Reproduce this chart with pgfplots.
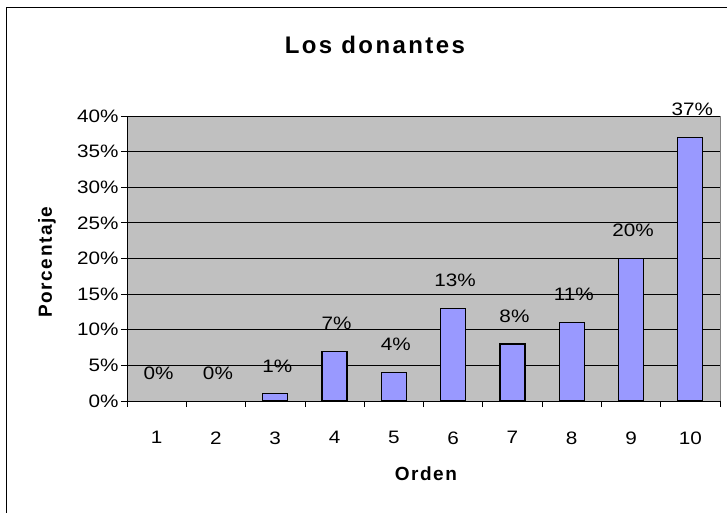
\documentclass[border=0pt]{standalone}
\usepackage{fontspec}
\setmainfont{Liberation Sans}[FakeStretch=1.15]
\newfontfamily\titlefont[LetterSpace=10]{Liberation Sans}
\newfontfamily\labelfont[LetterSpace=8]{Liberation Sans}
\usepackage{pgfplots}
\pgfplotsset{compat=1.18}

\definecolor{barblue}{HTML}{9999FF}
\definecolor{plotgray}{HTML}{C0C0C0}
\definecolor{edgegray}{HTML}{808080}

\begin{document}
\begin{tikzpicture}
    \useasboundingbox (-127bp,-112bp) rectangle (600bp,401bp);
    \clip (-127bp,-112bp) rectangle (600bp,401bp);
    \draw[line width=1bp] (-120bp,-140bp) rectangle (640bp,393bp);
    \begin{axis}[
        at={(0,0)}, anchor=south west,
        scale only axis,
        width=593bp, height=285bp,
        clip=false,
        axis background/.style={fill=plotgray, draw=edgegray},
        axis x line*=bottom, axis y line*=left,
        axis line style={black, line width=0.8bp},
        xmin=0.5, xmax=10.5,
        ymin=0, ymax=40,
        xtick={1,...,10},
        minor xtick={0.5,1.5,...,10.5},
        major x tick style={draw=none},
        minor tick length=6bp, major tick length=6bp,
        tick align=outside,
        tick style={black, line width=0.8bp},
        ytick={0,5,...,40},
        ymajorgrids=true,
        grid style={black, line width=0.8bp},
        /pgf/number format/assume math mode=true,
        yticklabel={\pgfmathprintnumber{\tick}\%},
        ticklabel style={font=\fontsize{18bp}{20bp}\selectfont},
        yticklabel style={xshift=1bp},
        xticklabel style={yshift=-21bp},
        title={\titlefont\fontsize{24bp}{28bp}\selectfont\bfseries Los donantes},
        title style={at={(axis description cs:0.418,1.228)}, anchor=center},
        xlabel={\labelfont\fontsize{19bp}{22bp}\selectfont\bfseries Orden},
        xlabel style={at={(axis description cs:0.504,-0.256)}, anchor=center},
        ylabel={\labelfont\fontsize{19bp}{22bp}\selectfont\bfseries Porcentaje},
        ylabel style={at={(axis description cs:-0.135,0.488)}, anchor=center, rotate=0},
        ybar, bar width=25bp,
        nodes near coords={\pgfmathprintnumber{\pgfplotspointmeta}\%},
        every node near coord/.append style={anchor=center, yshift=28bp, xshift=2bp,
            font=\fontsize{18bp}{20bp}\selectfont},
    ]
        % bars with a value
        \addplot[bar shift=0pt, fill=barblue, draw=black, line width=1.2bp]
            coordinates {
            (3,1) (4,7) (5,4) (6,13) (7,8) (8,11) (9,20) (10,37)
            };
        % zero values: label only, no bar
        \addplot[bar shift=0pt, draw=none, fill=none]
            coordinates {
            (1,0) (2,0)
            };
    \end{axis}
\end{tikzpicture}
\end{document}
